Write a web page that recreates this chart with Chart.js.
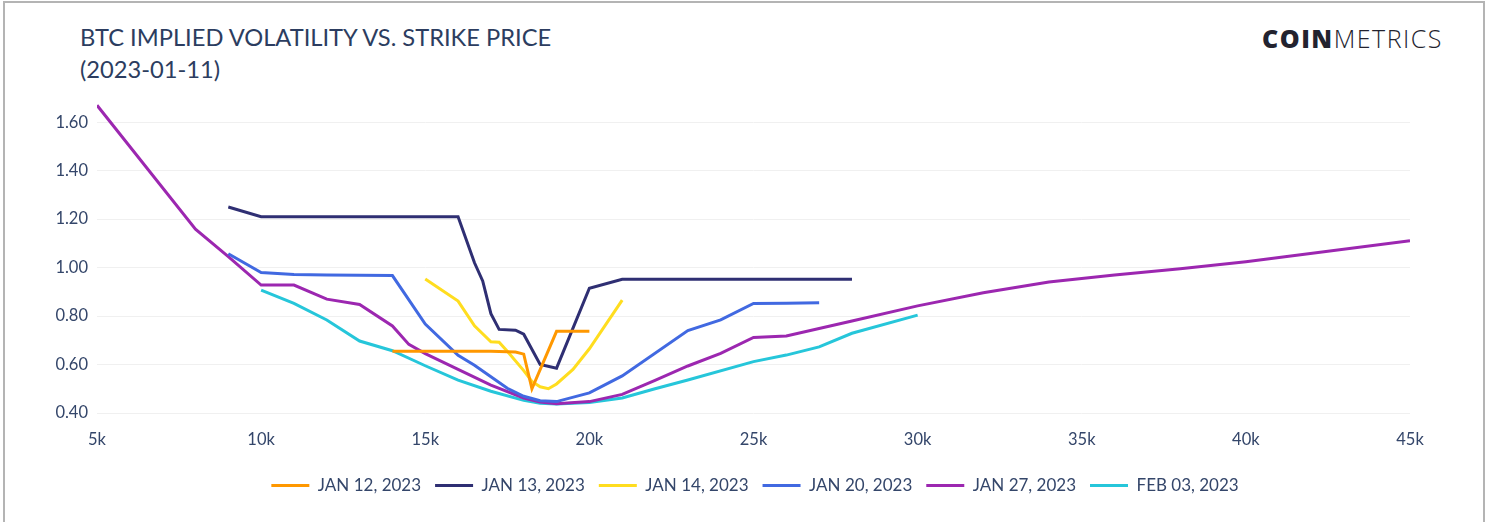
<!DOCTYPE html>
<html>
<head>
<meta charset="utf-8">
<script src="https://cdn.jsdelivr.net/npm/chart.js@4.4.0/dist/chart.umd.min.js"></script>
<style>
  html, body { margin: 0; padding: 0; background: #fff; overflow: hidden; }
  body { width: 1490px; height: 522px; position: relative; font-family: 'Lato', sans-serif; }
  .frame { position: absolute; left: 3px; top: 1px; width: 1478px; height: 600px; border: 2px solid #b4b4b4; }
  .title { position: absolute; left: 80px; top: 21px; color: #2c3d60; font-size: 23.7px; line-height: 32px; }
  .logo { position: absolute; left: 1262px; top: 21px; color: #23232f; font-family: 'Open Sans', sans-serif; font-size: 25px; letter-spacing: 1.5px; }
  .logo b { font-weight: 800; }
  .logo span { font-weight: 300; }
  .wrap { position: absolute; left: 0; top: 0; width: 1490px; height: 522px; }
</style>
</head>
<body>
<div class="frame"></div>
<div class="title">BTC IMPLIED VOLATILITY VS. STRIKE PRICE<br>(2023-01-11)</div>
<div class="logo"><b>COIN</b><span>METRICS</span></div>
<div class="wrap"><canvas id="ivChart" width="1490" height="522"></canvas></div>
<script>
// strike prices (USD) and implied vol per expiry
const strikesJan12 = [14000, 15000, 16000, 17000, 17750, 18000, 18250, 19000, 20000];
const ivJan12 = [0.655, 0.655, 0.655, 0.655, 0.652, 0.643, 0.50, 0.737, 0.737];

const strikesJan13 = [9000, 10000, 11000, 12000, 13000, 14000, 15000, 16000, 16500, 16750, 17000, 17250, 17750, 18000, 18500, 19000, 20000, 21000, 22000, 23000, 24000, 25000, 26000, 27000, 28000];
const ivJan13 = [1.25, 1.21, 1.21, 1.21, 1.21, 1.21, 1.21, 1.21, 1.02, 0.945, 0.81, 0.745, 0.742, 0.725, 0.60, 0.585, 0.915, 0.952, 0.952, 0.952, 0.952, 0.952, 0.952, 0.952, 0.952];

const strikesJan14 = [15000, 16000, 16500, 17000, 17250, 17500, 18000, 18250, 18500, 18750, 19000, 19500, 20000, 21000];
const ivJan14 = [0.953, 0.862, 0.76, 0.694, 0.692, 0.655, 0.575, 0.53, 0.508, 0.50, 0.52, 0.58, 0.665, 0.866];

const strikesJan20 = [9000, 10000, 11000, 12000, 13000, 14000, 15000, 16000, 16500, 17000, 17500, 18000, 18500, 19000, 20000, 21000, 23000, 24000, 25000, 26000, 27000];
const ivJan20 = [1.057, 0.98, 0.972, 0.97, 0.968, 0.967, 0.767, 0.638, 0.597, 0.55, 0.502, 0.469, 0.451, 0.447, 0.483, 0.553, 0.74, 0.784, 0.852, 0.853, 0.855];

const strikesJan27 = [5000, 8000, 9000, 10000, 11000, 12000, 13000, 14000, 14500, 15000, 16000, 17000, 18000, 18500, 19000, 20000, 21000, 22000, 23000, 24000, 25000, 26000, 28000, 30000, 32000, 34000, 36000, 38000, 40000, 45000];
const ivJan27 = [1.67, 1.159, 1.045, 0.928, 0.928, 0.87, 0.848, 0.759, 0.683, 0.645, 0.58, 0.515, 0.462, 0.445, 0.438, 0.447, 0.477, 0.535, 0.594, 0.646, 0.712, 0.718, 0.78, 0.842, 0.896, 0.941, 0.97, 0.995, 1.024, 1.111];

const strikesFeb03 = [10000, 11000, 12000, 13000, 14000, 15000, 16000, 17000, 18000, 18500, 19000, 20000, 21000, 22000, 23000, 25000, 26000, 27000, 28000, 30000];
const ivFeb03 = [0.907, 0.852, 0.784, 0.697, 0.657, 0.595, 0.536, 0.49, 0.452, 0.44, 0.437, 0.443, 0.462, 0.50, 0.536, 0.612, 0.639, 0.673, 0.729, 0.804];

const seriesLabels = ['JAN 12, 2023', 'JAN 13, 2023', 'JAN 14, 2023', 'JAN 20, 2023', 'JAN 27, 2023', 'FEB 03, 2023'];
const seriesColors = ['#ff9800', '#2f2f73', '#ffdd1f', '#4169e1', '#9c27b0', '#26c6da'];
const yTicks = [0.4, 0.6, 0.8, 1.0, 1.2, 1.4, 1.6];

const allStrikes = [strikesJan12, strikesJan13, strikesJan14, strikesJan20, strikesJan27, strikesFeb03];
const allIv = [ivJan12, ivJan13, ivJan14, ivJan20, ivJan27, ivFeb03];

const textColor = '#34466a';
Chart.defaults.font.family = "'Lato', sans-serif";
Chart.defaults.color = textColor;

const datasets = seriesLabels.map((label, i) => ({
    label: label,
    data: allStrikes[i].map((s, j) => ({ x: s, y: allIv[i][j] })),
    borderColor: seriesColors[i],
    backgroundColor: seriesColors[i],
    borderWidth: 3,
    pointRadius: 0,
    tension: 0
}));

new Chart(document.getElementById('ivChart'), {
    type: 'line',
    data: { datasets: datasets },
    options: {
        responsive: false,
        animation: false,
        devicePixelRatio: 1,
        layout: { padding: { left: 20, right: 0, top: 98, bottom: 18 } },
        scales: {
            x: {
                type: 'linear',
                min: 5000,
                max: 45000,
                afterFit: axis => { axis.height = 50; },
                grid: { display: false },
                border: { display: false },
                ticks: {
                    stepSize: 5000,
                    padding: 9,
                    font: { size: 16.5 },
                    maxRotation: 0,
                    callback: v => (v / 1000) + 'k'
                }
            },
            y: {
                min: 0.4,
                max: 1.7,
                afterBuildTicks: axis => { axis.ticks = yTicks.map(v => ({ value: v })); },
                afterFit: axis => { axis.width = 77; },
                grid: { color: '#f0f0f0', drawTicks: false },
                border: { display: false },
                ticks: {
                    padding: 9,
                    font: { size: 16.5 },
                    callback: v => v.toFixed(2)
                }
            },
            // empty right-hand spacer so the plot ends at 45k while the legend stays centred
            yRight: {
                position: 'right',
                afterFit: axis => { axis.width = 80; },
                grid: { display: false },
                border: { display: false },
                ticks: { display: false }
            }
        },
        plugins: {
            legend: {
                position: 'bottom',
                labels: {
                    boxWidth: 38,
                    boxHeight: 3,
                    padding: 14,
                    font: { size: 17 },
                    color: textColor,
                    generateLabels: chart => Chart.defaults.plugins.legend.labels.generateLabels(chart).map(l => Object.assign(l, { lineWidth: 0 }))
                }
            },
            tooltip: { enabled: false }
        }
    }
});
</script>
</body>
</html>
